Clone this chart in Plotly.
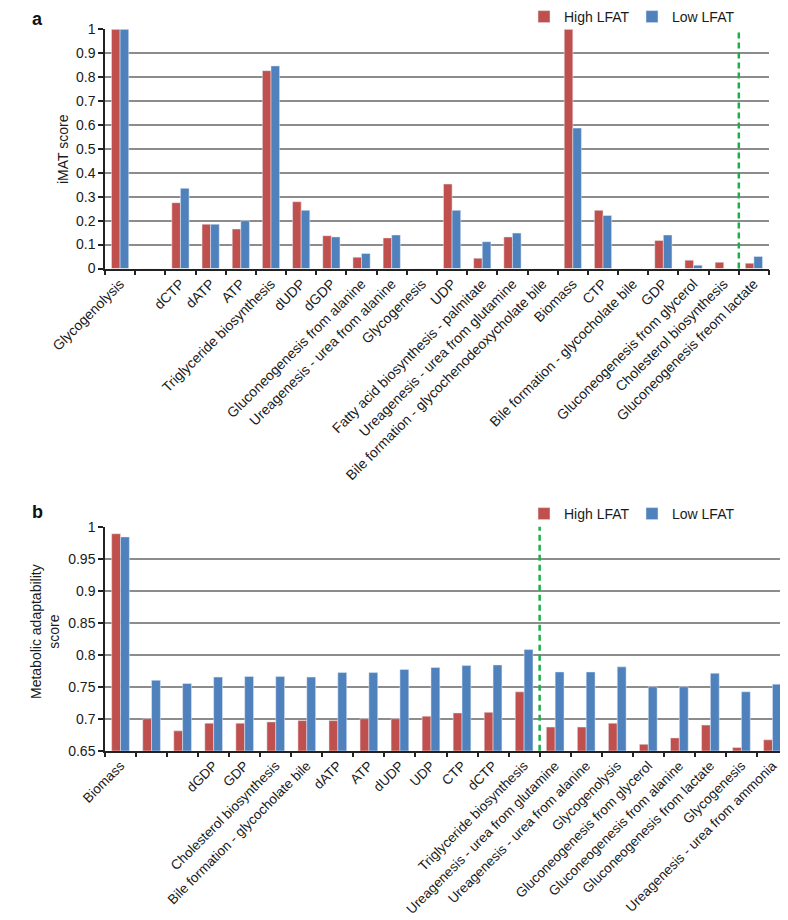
import plotly.graph_objects as go

# ---------------- Panel a data ----------------
cats_a = [
    "Glycogenolysis", "Ureagenesis - urea from ammonia", "dCTP", "dATP", "ATP",
    "Triglyceride biosynthesis", "dUDP", "dGDP", "Gluconeogenesis from alanine",
    "Ureagenesis - urea from alanine", "Glycogenesis", "UDP",
    "Fatty acid biosynthesis - palmitate", "Ureagenesis - urea from glutamine",
    "Bile formation - glycochenodeoxycholate bile", "Biomass", "CTP",
    "Bile formation - glycocholate bile", "GDP", "Gluconeogenesis from glycerol",
    "Cholesterol biosynthesis", "Gluconeogenesis freom lactate",
]
high_a = [1.0, 0.0, 0.275, 0.185, 0.165, 0.827, 0.279, 0.137, 0.047, 0.128, 0.0,
          0.353, 0.043, 0.132, 0.0, 1.0, 0.243, 0.0, 0.117, 0.035, 0.026, 0.022]
low_a = [1.0, 0.0, 0.335, 0.185, 0.200, 0.847, 0.243, 0.132, 0.063, 0.140, 0.0,
         0.243, 0.112, 0.148, 0.0, 0.587, 0.222, 0.0, 0.140, 0.014, 0.0, 0.050]
ytick_a = [0, 0.1, 0.2, 0.3, 0.4, 0.5, 0.6, 0.7, 0.8, 0.9, 1]
ytext_a = ["0", "0.1", "0.2", "0.3", "0.4", "0.5", "0.6", "0.7", "0.8", "0.9", "1"]

# ---------------- Panel b data ----------------
cats_b = [
    "Biomass", "", "", "dGDP", "GDP", "Cholesterol biosynthesis",
    "Bile formation - glycocholate bile", "dATP", "ATP", "dUDP", "UDP", "CTP",
    "dCTP", "Triglyceride biosynthesis", "Ureagenesis - urea from glutamine",
    "Ureagenesis - urea from alanine", "Glycogenolysis",
    "Gluconeogenesis from glycerol", "Gluconeogenesis from alanine",
    "Gluconeogenesis from lactate", "Glycogenesis", "Ureagenesis - urea from ammonia",
]
high_b = [0.989, 0.700, 0.681, 0.693, 0.693, 0.695, 0.697, 0.697, 0.700, 0.700,
          0.704, 0.709, 0.710, 0.742, 0.687, 0.687, 0.693, 0.660, 0.670, 0.690,
          0.655, 0.667]
low_b = [0.984, 0.760, 0.755, 0.765, 0.766, 0.766, 0.765, 0.772, 0.772, 0.777,
         0.780, 0.783, 0.784, 0.808, 0.773, 0.773, 0.781, 0.750, 0.750, 0.771,
         0.742, 0.754]
ytick_b = [0.65, 0.7, 0.75, 0.8, 0.85, 0.9, 0.95, 1]
ytext_b = ["0.65", "0.7", "0.75", "0.8", "0.85", "0.9", "0.95", "1"]

series_names = ["High LFAT", "Low LFAT"]
split_a = 20.5   # dashed separator position (between categories)
split_b = 13.5

RED = "#C0504D"
BLUE = "#4F81BD"
GREEN = "#1DAF4B"
FONT = "Arial, Liberation Sans, sans-serif"

# the page body adds an 8px margin, so the figure is drawn 8px smaller
OFF = 8
W, H = 788 - OFF, 920 - OFF
xa = list(range(len(cats_a)))
xb = list(range(len(cats_b)))

fig = go.Figure()
fig.add_trace(go.Bar(x=xa, y=high_a, name=series_names[0], marker_color=RED,
                     xaxis="x", yaxis="y", legend="legend"))
fig.add_trace(go.Bar(x=xa, y=low_a, name=series_names[1], marker_color=BLUE,
                     xaxis="x", yaxis="y", legend="legend"))
fig.add_trace(go.Bar(x=xb, y=high_b, name=series_names[0], marker_color=RED,
                     xaxis="x2", yaxis="y2", legend="legend2"))
fig.add_trace(go.Bar(x=xb, y=low_b, name=series_names[1], marker_color=BLUE,
                     xaxis="x2", yaxis="y2", legend="legend2"))

def px_x(p):  # screen px -> paper fraction
    return (p - OFF) / W

def px_y(p):
    return 1 - (p - OFF) / H

tickfont = dict(family=FONT, size=14, color="#1a1a1a")
common_x = dict(
    tickmode="array", tickangle=-45, automargin=False,
    ticks="", showgrid=False, zeroline=False,
    showline=True, linecolor="#222", linewidth=1.5,
)
minor_x = dict(ticks="outside", ticklen=5, tickcolor="#222", tickwidth=1.5)
common_y = dict(
    tickmode="array", tickfont=tickfont, ticks="outside", ticklen=5, automargin=False,
    tickcolor="#222", tickwidth=1.5, showline=True, linecolor="#222",
    linewidth=1.5, showgrid=True, gridcolor="#8c8c8c", gridwidth=1.5,
    zeroline=False,
)
legend_common = dict(orientation="h", xanchor="left", yanchor="middle",
                     font=dict(family=FONT, size=14, color="#1a1a1a"),
                     entrywidth=63, entrywidthmode="pixels", itemwidth=30,
                     bgcolor="rgba(0,0,0,0)")

fig.update_layout(
    width=W, height=H,
    margin=dict(l=0, r=0, t=0, b=0, autoexpand=False),
    paper_bgcolor="white", plot_bgcolor="white",
    barmode="group", bargap=0.43, bargroupgap=0,
    font=dict(family=FONT, size=14, color="#1a1a1a"),
    xaxis=dict(common_x, domain=[px_x(105), px_x(769)], range=[-0.5, len(cats_a) - 0.5],
               tickvals=xa, ticktext=cats_a, anchor="y", tickfont=tickfont,
               minor=dict(minor_x, tickvals=[i - 0.5 for i in range(len(cats_a) + 1)])),
    yaxis=dict(common_y, domain=[px_y(268.5), px_y(29.3)], range=[0, 1],
               tickvals=ytick_a, ticktext=ytext_a, anchor="x"),
    xaxis2=dict(common_x, domain=[px_x(105), 1.0], range=[-0.5, len(cats_b) - 0.5],
                tickvals=xb, ticktext=cats_b, anchor="y2",
                tickfont=dict(family=FONT, size=13.6, color="#1a1a1a"),
                minor=dict(minor_x, tickvals=[i - 0.5 for i in range(len(cats_b) + 1)])),
    yaxis2=dict(common_y, domain=[px_y(750.7), px_y(526.7)], range=[0.65, 1],
                tickvals=ytick_b, ticktext=ytext_b, anchor="x2"),
    legend=dict(legend_common, x=px_x(524), y=px_y(17)),
    legend2=dict(legend_common, x=px_x(524), y=px_y(514)),
)

# dashed separators
fig.add_shape(type="line", xref="x", yref="y domain", x0=split_a, x1=split_a, y0=0, y1=1,
              line=dict(color=GREEN, width=2.5, dash="6px,4px"))
fig.add_shape(type="line", xref="x2", yref="y2 domain", x0=split_b, x1=split_b, y0=0, y1=1,
              line=dict(color=GREEN, width=2.5, dash="6px,4px"))

# axis titles and panel letters
ann_font = dict(family=FONT, size=14, color="#1a1a1a")
fig.add_annotation(text="iMAT score", xref="paper", yref="paper", x=px_x(63), y=px_y(149),
                   xanchor="center", yanchor="middle",
                   textangle=-90, showarrow=False, font=ann_font)
fig.add_annotation(text="Metabolic adaptability<br>score", xref="paper", yref="paper",
                   x=px_x(45), y=px_y(632), xanchor="center", yanchor="middle",
                   textangle=-90, showarrow=False, font=ann_font)
fig.add_annotation(text="<b>a</b>", xref="paper", yref="paper", x=px_x(37), y=px_y(19),
                   xanchor="center", yanchor="middle",
                   showarrow=False, font=dict(family=FONT, size=18, color="#111"))
fig.add_annotation(text="<b>b</b>", xref="paper", yref="paper", x=px_x(37), y=px_y(512),
                   xanchor="center", yanchor="middle",
                   showarrow=False, font=dict(family=FONT, size=18, color="#111"))

fig.write_html("out.html")
